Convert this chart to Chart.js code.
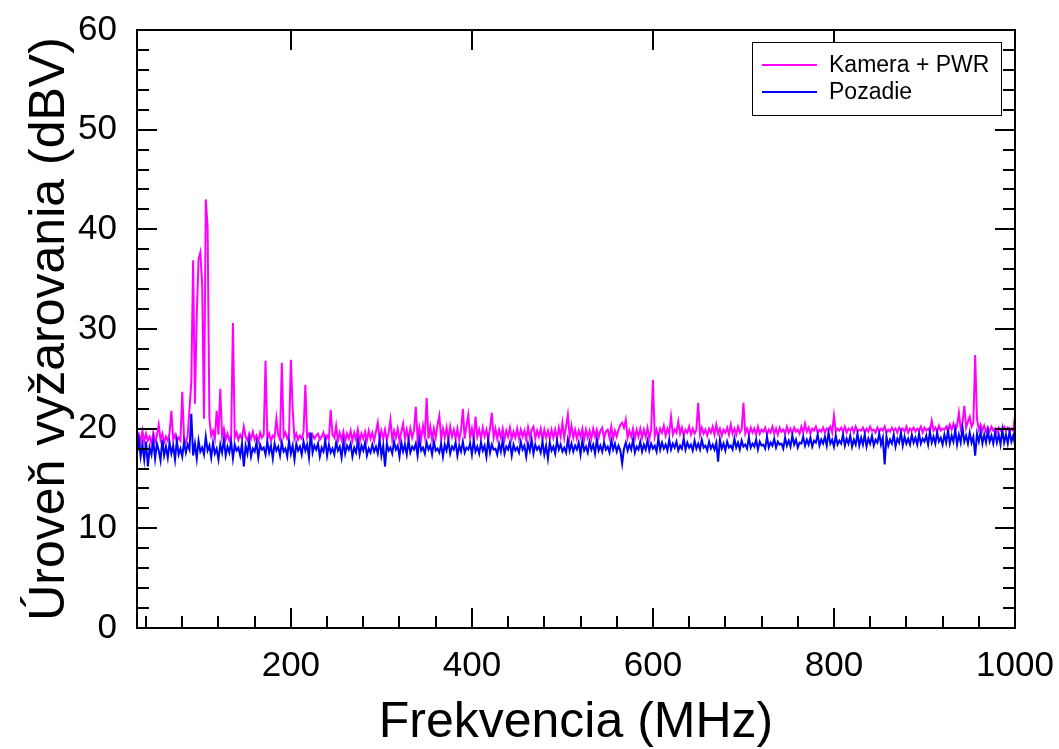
<!DOCTYPE html>
<html>
<head>
<meta charset="utf-8">
<title>Kamera + PWR / Pozadie</title>
<script src="https://cdn.jsdelivr.net/npm/chart.js@4.4.0/dist/chart.umd.min.js"></script>
<style>
  html, body { margin: 0; padding: 0; background: #fff; }
</style>
</head>
<body>
<canvas id="spektrum" width="1059" height="749"></canvas>
<script>
// frekvencie v MHz (krok 2 MHz)
const freq = [
  30,32,34,36,38,40,42,44,46,48,
  50,52,54,56,58,60,62,64,66,68,
  70,72,74,76,78,80,82,84,86,88,
  90,92,94,96,98,100,102,104,106,108,
  110,112,114,116,118,120,122,124,126,128,
  130,132,134,136,138,140,142,144,146,148,
  150,152,154,156,158,160,162,164,166,168,
  170,172,174,176,178,180,182,184,186,188,
  190,192,194,196,198,200,202,204,206,208,
  210,212,214,216,218,220,222,224,226,228,
  230,232,234,236,238,240,242,244,246,248,
  250,252,254,256,258,260,262,264,266,268,
  270,272,274,276,278,280,282,284,286,288,
  290,292,294,296,298,300,302,304,306,308,
  310,312,314,316,318,320,322,324,326,328,
  330,332,334,336,338,340,342,344,346,348,
  350,352,354,356,358,360,362,364,366,368,
  370,372,374,376,378,380,382,384,386,388,
  390,392,394,396,398,400,402,404,406,408,
  410,412,414,416,418,420,422,424,426,428,
  430,432,434,436,438,440,442,444,446,448,
  450,452,454,456,458,460,462,464,466,468,
  470,472,474,476,478,480,482,484,486,488,
  490,492,494,496,498,500,502,504,506,508,
  510,512,514,516,518,520,522,524,526,528,
  530,532,534,536,538,540,542,544,546,548,
  550,552,554,556,558,560,562,564,566,568,
  570,572,574,576,578,580,582,584,586,588,
  590,592,594,596,598,600,602,604,606,608,
  610,612,614,616,618,620,622,624,626,628,
  630,632,634,636,638,640,642,644,646,648,
  650,652,654,656,658,660,662,664,666,668,
  670,672,674,676,678,680,682,684,686,688,
  690,692,694,696,698,700,702,704,706,708,
  710,712,714,716,718,720,722,724,726,728,
  730,732,734,736,738,740,742,744,746,748,
  750,752,754,756,758,760,762,764,766,768,
  770,772,774,776,778,780,782,784,786,788,
  790,792,794,796,798,800,802,804,806,808,
  810,812,814,816,818,820,822,824,826,828,
  830,832,834,836,838,840,842,844,846,848,
  850,852,854,856,858,860,862,864,866,868,
  870,872,874,876,878,880,882,884,886,888,
  890,892,894,896,898,900,902,904,906,908,
  910,912,914,916,918,920,922,924,926,928,
  930,932,934,936,938,940,942,944,946,948,
  950,952,954,956,958,960,962,964,966,968,
  970,972,974,976,978,980,982,984,986,988,
  990,992,994,996,998,1000
];

// úroveň s kamerou + PWR (dBuV)
const kameraPwr = [
  18.9,19.4,18.6,19.8,18.7,19.5,18.8,19.2,18.5,19.6,
  18.7,19.3,20.4,18.9,19.5,18.6,19.2,18.8,19.6,21.8,
  18.9,19.4,18.7,19.1,18.8,23.7,19.0,18.6,19.3,22.0,
  24.7,36.9,22.5,31.3,37.0,37.7,34.4,21.0,43.0,40.2,
  21.0,19.3,19.8,19.0,21.8,19.4,24.0,19.2,20.0,18.9,
  19.5,18.8,19.3,30.6,19.1,19.6,18.9,19.4,19.0,20.2,
  19.2,18.8,19.5,19.0,19.7,18.9,19.3,18.7,19.6,19.1,
  19.4,26.8,19.0,19.5,18.8,19.3,19.1,21.0,19.4,18.9,
  26.6,19.2,19.6,19.0,19.4,26.9,21.9,19.0,19.5,18.9,
  19.3,19.0,19.7,24.4,19.1,19.5,18.8,19.4,19.0,19.3,
  19.5,18.9,19.2,19.6,18.8,19.3,19.0,21.9,19.4,19.1,
  20.3,18.8,19.6,18.9,19.7,18.7,19.5,19.0,19.8,18.8,
  19.6,18.9,19.9,18.7,19.5,19.0,19.7,18.8,19.8,19.0,
  19.6,18.8,19.7,20.6,18.9,19.8,19.0,19.9,18.8,19.6,
  20.9,18.9,19.8,19.1,20.0,18.8,19.7,20.5,19.0,19.9,
  18.9,20.0,19.1,19.8,22.2,18.9,20.1,19.0,20.3,19.2,
  23.1,19.0,20.2,18.9,20.0,19.1,20.4,21.3,19.0,20.0,
  19.1,20.1,18.9,20.2,19.2,19.9,19.0,20.0,18.9,19.8,
  22.0,19.0,20.3,21.4,19.1,20.0,18.9,21.2,19.2,19.9,
  19.0,20.1,19.2,19.9,18.9,20.0,21.6,19.1,20.0,19.0,
  19.9,19.1,20.0,18.9,19.8,19.2,20.1,19.0,19.7,19.1,
  20.0,19.0,19.9,19.2,19.8,18.9,20.1,19.1,19.9,20.2,
  19.0,19.8,19.2,20.0,18.9,19.9,19.1,19.8,19.0,19.9,
  19.1,19.9,19.0,20.1,19.2,20.6,19.1,20.2,21.4,19.2,
  20.3,19.1,19.9,19.0,19.8,19.2,20.0,18.9,19.9,19.1,
  19.8,19.0,20.0,19.2,19.9,19.1,19.8,20.1,19.0,19.7,
  19.9,19.1,20.2,19.0,19.8,19.2,19.9,20.4,20.6,20.1,
  20.9,19.1,19.8,19.2,20.0,19.0,19.9,19.2,20.0,19.1,
  19.9,19.2,20.1,19.0,19.8,24.9,19.2,19.9,19.1,20.0,
  19.6,20.3,19.3,20.0,19.5,21.2,19.4,19.9,19.6,20.7,
  19.5,20.1,19.3,19.9,19.6,20.2,19.4,20.0,19.5,19.9,
  22.6,19.4,20.1,19.5,19.9,19.3,20.0,19.6,20.2,19.4,
  20.4,19.5,20.0,19.3,19.9,19.6,20.1,19.4,20.4,19.5,
  20.0,19.4,20.2,19.6,19.9,22.6,19.5,20.0,19.4,20.1,
  19.6,20.0,19.4,20.2,19.5,19.9,19.7,20.1,19.4,19.9,
  19.6,20.2,19.5,20.0,19.4,20.1,19.7,19.9,19.5,20.2,
  19.6,20.0,19.5,20.1,19.7,19.9,19.5,20.2,19.6,20.5,
  19.7,20.1,19.5,20.0,19.8,20.2,19.6,19.9,19.7,20.1,
  19.6,20.0,19.8,20.2,19.6,21.3,19.7,20.0,19.8,20.1,
  19.7,20.2,19.6,20.0,19.8,20.1,19.6,20.2,19.7,19.9,
  19.8,20.1,19.6,20.0,19.7,20.2,19.8,19.9,19.6,20.1,
  19.7,20.0,19.8,20.2,19.6,19.9,19.7,20.1,19.8,20.0,
  19.6,20.1,19.8,20.0,19.7,20.2,19.6,20.0,19.8,20.1,
  19.7,20.0,19.8,20.2,19.6,20.1,19.8,20.0,19.7,20.8,
  19.8,20.1,19.7,20.3,19.8,20.0,19.9,20.2,19.7,20.4,
  19.9,20.5,19.8,20.3,21.6,20.0,20.6,22.3,20.1,20.7,
  21.2,20.2,20.6,27.4,21.0,19.9,20.4,19.8,20.3,19.7,
  20.1,19.7,20.2,19.8,20.0,19.6,20.1,19.8,19.9,20.2,
  19.8,20.1,19.7,20.0,19.8,21.3
];

// pozadie (dBuV)
const pozadie = [
  17.6,18.9,17.2,18.4,16.9,18.7,16.2,18.1,17.4,18.8,
  17.0,18.5,17.8,16.8,18.9,17.3,18.2,17.1,18.6,17.5,
  18.3,16.9,18.8,17.4,18.0,17.2,18.7,17.6,18.4,17.9,
  21.5,17.3,18.5,17.0,18.8,17.7,18.1,17.4,19.2,17.8,
  18.3,17.1,18.6,17.5,18.0,16.9,18.4,17.6,18.9,17.3,
  18.2,17.6,18.7,17.0,18.4,17.8,18.1,17.3,18.5,16.2,
  18.3,17.5,18.8,17.2,18.0,17.7,18.6,17.1,18.4,17.9,
  18.1,17.4,18.7,17.6,18.3,17.0,18.5,17.8,18.2,17.3,
  18.6,17.7,18.0,17.2,18.8,17.5,18.3,16.9,18.5,17.8,
  18.2,17.4,18.7,17.8,18.4,17.1,19.6,17.6,18.3,17.9,
  18.5,17.2,18.1,17.7,18.8,17.3,18.4,17.6,18.0,17.4,
  18.6,17.8,18.2,17.1,18.7,17.5,18.3,17.9,18.5,17.2,
  18.1,17.6,18.8,17.4,18.3,17.8,18.6,17.3,18.0,17.6,
  18.4,17.7,18.2,17.5,18.9,17.3,18.3,16.2,18.5,17.8,
  18.1,17.5,18.7,17.9,18.3,17.2,18.6,17.7,18.4,17.4,
  18.8,17.6,18.2,17.9,18.5,17.3,18.9,17.8,18.1,17.5,
  18.6,17.9,18.3,17.4,18.7,17.8,18.0,17.6,18.5,17.2,
  18.4,17.8,18.8,17.5,18.2,17.9,18.6,17.3,18.3,17.7,
  18.7,17.6,18.1,17.9,18.5,17.4,18.8,17.7,18.2,17.5,
  18.6,17.8,18.3,17.2,18.9,17.6,18.4,17.9,18.0,17.4,
  18.5,17.7,18.8,17.5,18.2,17.9,18.6,17.3,18.4,17.8,
  18.1,17.6,18.7,17.9,18.3,17.2,18.5,17.8,18.9,17.5,
  18.4,17.9,18.2,17.6,18.7,17.4,18.3,17.0,18.6,17.8,
  18.2,17.5,18.8,17.9,18.4,17.7,18.1,17.6,18.9,17.8,
  18.5,17.7,18.3,17.9,18.6,17.4,18.8,17.8,18.2,17.6,
  18.7,17.9,18.4,17.5,18.9,17.8,18.3,17.7,18.6,17.9,
  18.2,17.6,18.8,17.9,18.5,17.7,18.3,17.8,16.5,18.0,
  18.6,17.8,18.4,17.9,18.9,17.6,18.2,17.9,18.7,17.7,
  18.4,17.9,18.8,17.8,18.5,18.0,18.3,17.7,19.0,17.9,
  18.6,18.0,18.4,17.8,18.9,17.9,18.5,18.1,18.7,17.8,
  18.3,18.0,19.0,17.9,18.6,18.1,18.4,17.8,18.8,18.0,
  18.5,17.9,18.9,18.1,18.3,17.8,18.7,18.0,18.4,17.9,
  18.6,16.7,18.9,18.0,18.5,17.8,18.7,18.1,18.3,17.9,
  19.0,18.1,18.6,17.9,18.8,18.2,18.4,18.0,19.1,18.1,
  18.5,18.2,18.9,17.9,18.7,18.3,18.4,18.0,19.2,18.1,
  18.6,18.3,19.0,18.1,18.7,18.4,18.5,18.0,19.1,18.3,
  18.8,18.2,19.3,18.4,18.9,18.1,18.6,18.5,19.2,18.3,
  18.9,18.4,19.1,18.2,18.8,18.6,19.4,18.3,18.9,18.5,
  19.2,18.3,19.6,18.5,18.9,18.2,19.3,18.4,18.8,18.5,
  19.4,18.3,19.0,18.5,19.3,18.2,18.9,18.4,19.5,18.3,
  19.1,18.4,19.4,18.2,19.0,18.5,19.3,18.3,18.9,18.6,
  19.5,18.4,19.1,16.4,19.2,18.3,18.9,18.5,19.4,18.2,
  19.0,18.6,19.6,18.3,19.2,18.5,19.0,18.4,19.4,18.6,
  19.1,18.4,19.5,18.5,19.0,18.7,19.3,18.4,19.7,18.6,
  19.2,18.5,19.6,18.7,19.1,18.4,19.4,18.6,19.8,18.5,
  19.3,18.7,19.9,18.4,19.4,18.6,20.1,18.7,19.3,18.5,
  19.6,18.6,19.2,17.3,19.5,18.7,19.7,18.5,19.4,18.6,
  19.8,18.7,19.3,18.5,19.6,18.6,19.4,18.4,19.9,18.6,
  19.4,18.5,19.7,18.7,19.3,18.4
];

const xTicks = [200, 400, 600, 800, 1000];
const yTicks = [0, 10, 20, 30, 40, 50, 60];

const fontFamily = '"Liberation Sans", Arial, sans-serif';

// ramcek okolo grafu + tiky dovnutra
const frameTicks = {
  id: 'frameTicks',
  afterDatasetsDraw(chart) {
    const { ctx, chartArea: a, scales: { x, y } } = chart;
    ctx.save();
    ctx.strokeStyle = '#000';
    ctx.lineWidth = 2;
    ctx.beginPath();
    for (let v = 40; v < 1000; v += 40) {
      const px = Math.round(x.getPixelForValue(v));
      const major = v % 200 === 0;
      ctx.moveTo(px, a.bottom);
      ctx.lineTo(px, a.bottom - (major ? 20 : 12));
      if (major) {
        ctx.moveTo(px, a.top);
        ctx.lineTo(px, a.top + 20);
      }
    }
    for (let v = 2; v < 60; v += 2) {
      const py = Math.round(y.getPixelForValue(v));
      const len = v % 10 === 0 ? 20 : 12;
      ctx.moveTo(a.left, py);
      ctx.lineTo(a.left + len, py);
      ctx.moveTo(a.right, py);
      ctx.lineTo(a.right - len, py);
    }
    ctx.stroke();
    ctx.strokeRect(a.left, a.top, a.right - a.left, a.bottom - a.top);
    ctx.restore();
  }
};

// legenda v ramceku vpravo hore
const boxLegend = {
  id: 'boxLegend',
  afterDraw(chart) {
    const { ctx, chartArea: a } = chart;
    const w = 249, h = 73;
    const bx = a.right - 14 - w, by = a.top + 12;
    ctx.save();
    ctx.fillStyle = '#fff';
    ctx.fillRect(bx, by, w, h);
    ctx.strokeStyle = '#000';
    ctx.lineWidth = 1;
    ctx.strokeRect(bx + 0.5, by + 0.5, w, h);
    ctx.font = '23px ' + fontFamily;
    ctx.textBaseline = 'middle';
    chart.data.datasets.forEach((ds, i) => {
      const ly = by + 23 + i * 27;
      ctx.strokeStyle = ds.borderColor;
      ctx.lineWidth = 2;
      ctx.beginPath();
      ctx.moveTo(bx + 10, ly);
      ctx.lineTo(bx + 65, ly);
      ctx.stroke();
      ctx.fillStyle = '#000';
      ctx.fillText(ds.label, bx + 77, ly + 1);
    });
    ctx.restore();
  }
};

const ctx = document.getElementById('spektrum');
const chart = new Chart(ctx, {
  type: 'line',
  data: {
    datasets: [
      {
        label: 'Kamera + PWR',
        data: freq.map((f, i) => ({ x: f, y: kameraPwr[i] })),
        borderColor: '#ff00ff',
        borderWidth: 2,
        pointRadius: 0,
        tension: 0,
        order: 1
      },
      {
        label: 'Pozadie',
        data: freq.map((f, i) => ({ x: f, y: pozadie[i] })),
        borderColor: '#0000ff',
        borderWidth: 2,
        pointRadius: 0,
        tension: 0,
        order: 0
      }
    ]
  },
  options: {
    responsive: false,
    devicePixelRatio: 1,
    animation: false,
    layout: { padding: { top: 30, right: 44, left: 0, bottom: 0 } },
    plugins: {
      legend: { display: false },
      tooltip: { enabled: false }
    },
    scales: {
      x: {
        type: 'linear',
        min: 30,
        max: 1000,
        afterBuildTicks: s => { s.ticks = xTicks.map(v => ({ value: v })); },
        afterFit: s => {
          s.height = 121;
          s.paddingLeft = 0;
          s.paddingRight = 0;
        },
        grid: { display: false, drawTicks: false },
        border: { display: false },
        ticks: {
          autoSkip: false,
          maxRotation: 0,
          padding: 17,
          color: '#000',
          font: { family: fontFamily, size: 35 },
          callback: v => String(v)
        },
        title: {
          display: true,
          text: 'Frekvencia (MHz)',
          color: '#000',
          font: { family: fontFamily, size: 50 },
          padding: { top: 0, bottom: -4 }
        }
      },
      y: {
        min: 0,
        max: 60,
        afterBuildTicks: s => { s.ticks = yTicks.map(v => ({ value: v })); },
        afterFit: s => {
          s.width = 137;
          s.paddingTop = 0;
          s.paddingBottom = 0;
        },
        grid: { display: false, drawTicks: false },
        border: { display: false },
        ticks: {
          padding: 20,
          color: '#000',
          font: { family: fontFamily, size: 35 },
          callback: v => String(v)
        },
        title: {
          display: true,
          text: 'Úroveň vyžarovania (dBV)',
          color: '#000',
          font: { family: fontFamily, size: 50 },
          padding: { top: 20, bottom: 0 }
        }
      }
    }
  },
  plugins: [frameTicks, boxLegend]
});
</script>
</body>
</html>
